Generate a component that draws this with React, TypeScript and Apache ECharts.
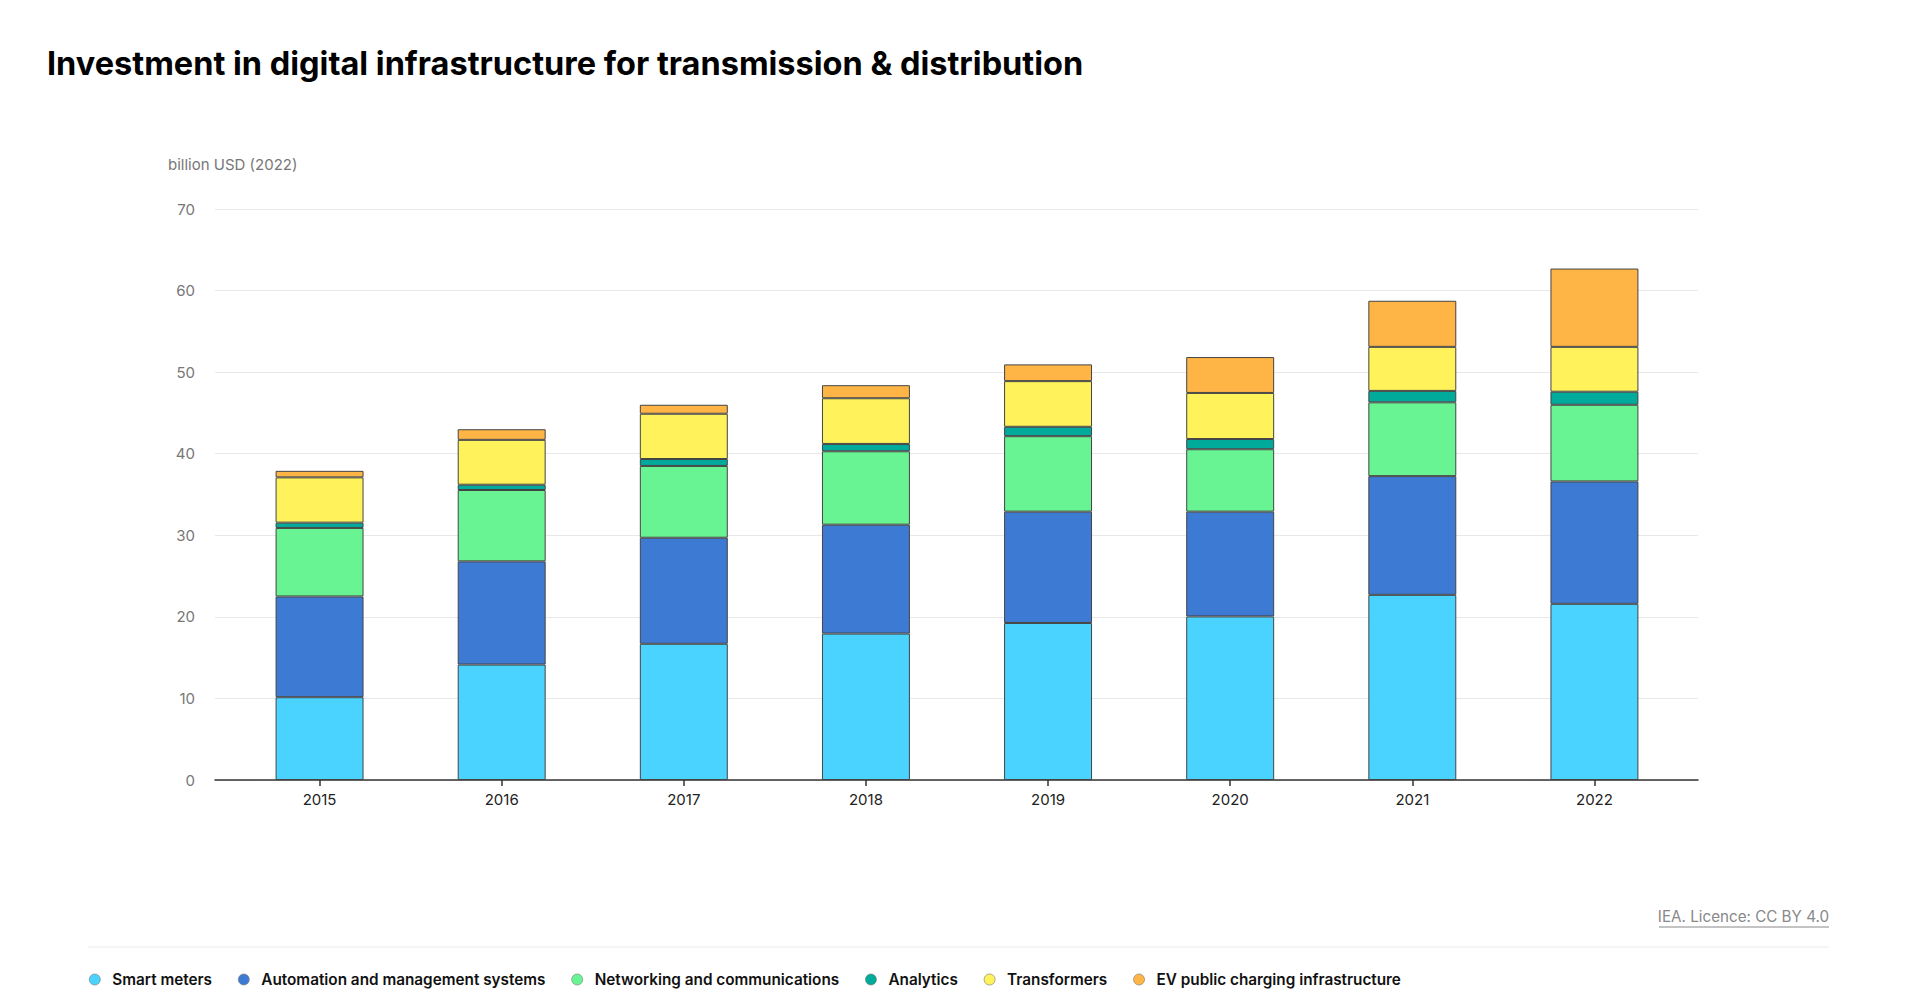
import React, { useEffect, useRef } from "react";
import * as echarts from "echarts";

const years = ["2015", "2016", "2017", "2018", "2019", "2020", "2021", "2022"];
const smartMeters = [10.15, 14.15, 16.7, 17.95, 19.25, 20.05, 22.7, 21.6];
const automation = [12.35, 12.65, 13.0, 13.35, 13.65, 12.85, 14.55, 15.0];
const networking = [8.4, 8.75, 8.8, 9.0, 9.25, 7.65, 9.05, 9.4];
const analytics = [0.65, 0.65, 0.85, 0.9, 1.15, 1.25, 1.4, 1.6];
const transformers = [5.55, 5.5, 5.55, 5.6, 5.6, 5.65, 5.4, 5.5];
const evCharging = [0.8, 1.3, 1.1, 1.6, 2.05, 4.4, 5.65, 9.6];
const yTicks = [0, 10, 20, 30, 40, 50, 60, 70];

const seriesDefs = [
  { name: "Smart meters", data: smartMeters, color: "#4AD3FE" },
  { name: "Automation and management systems", data: automation, color: "#3D7AD4" },
  { name: "Networking and communications", data: networking, color: "#69F493" },
  { name: "Analytics", data: analytics, color: "#00AB9C" },
  { name: "Transformers", data: transformers, color: "#FFF25A" },
  { name: "EV public charging infrastructure", data: evCharging, color: "#FFB545" },
];

const FONT = "Inter, 'Noto Sans', sans-serif";
const yMin = yTicks[0];
const yMax = yTicks[yTicks.length - 1];
const yStep = yTicks[1] - yTicks[0];

export default function App() {
  const ref = useRef<HTMLDivElement>(null);
  useEffect(() => {
    if (!ref.current) return;
    const chart = echarts.init(ref.current, undefined, { renderer: "svg" });
    chart.setOption({
      animation: false,
      backgroundColor: "#ffffff",
      textStyle: { fontFamily: FONT },
      title: {
        text: "Investment in digital infrastructure for transmission & distribution",
        left: 42,
        top: 42,
        textStyle: { fontFamily: FONT, fontSize: 32.5, fontWeight: 700, color: "#000" },
      },
      grid: [
        { left: 215, right: 222, top: 209, bottom: 227 },
        { left: 228.5, right: 234.5, top: 209, bottom: 227 },
      ],
      legend: {
        bottom: 15,
        left: 84,
        icon: "circle",
        itemWidth: 11,
        itemHeight: 11,
        itemGap: 26,
        textStyle: { fontFamily: FONT, fontSize: 15.3, fontWeight: 600, color: "#111", padding: [0, 0, 0, 7] },
        data: seriesDefs.map((s) => ({
          name: s.name,
          itemStyle: { color: s.color, borderColor: "#777", borderWidth: 0.6 },
        })),
      },
      xAxis: [
        {
          type: "category",
          gridIndex: 0,
          data: years,
          axisLine: { lineStyle: { color: "#333", width: 1.5 } },
          axisTick: { show: false },
          axisLabel: { show: false },
        },
        {
          type: "category",
          gridIndex: 1,
          data: years,
          axisLine: { show: false },
          axisTick: { show: true, alignWithLabel: true, length: 6, lineStyle: { color: "#333", width: 1.5 } },
          axisLabel: { color: "#222", fontSize: 15, margin: 12, fontFamily: FONT },
        },
      ],
      yAxis: [
        {
          type: "value",
          gridIndex: 0,
          min: yMin,
          max: yMax,
          interval: yStep,
          name: "billion USD (2022)",
          nameLocation: "end",
          nameGap: 37,
          nameTextStyle: { color: "#777", fontSize: 15, align: "left", padding: [0, 0, 0, -47], fontFamily: FONT },
          axisLine: { show: false },
          axisTick: { show: false },
          axisLabel: { color: "#777", fontSize: 15, margin: 20, fontFamily: FONT },
          splitLine: { lineStyle: { color: "#e8e8e8", width: 1 } },
        },
        {
          type: "value",
          gridIndex: 1,
          min: yMin,
          max: yMax,
          interval: yStep,
          axisLine: { show: false },
          axisTick: { show: false },
          axisLabel: { show: false },
          splitLine: { show: false },
        },
      ],
      series: seriesDefs.map((s) => ({
        name: s.name,
        type: "bar",
        stack: "total",
        xAxisIndex: 1,
        yAxisIndex: 1,
        barWidth: "48.3%",
        data: s.data,
        itemStyle: { color: s.color, borderColor: "#444", borderWidth: 1 },
      })),
      graphic: [
        {
          type: "text",
          right: 91,
          top: 909,
          style: {
            text: "IEA. Licence: CC BY 4.0",
            fill: "#888",
            fontSize: 15.2,
            fontFamily: FONT,
          },
        },
        {
          type: "line",
          shape: { x1: 1659, y1: 927, x2: 1829, y2: 927 },
          style: { stroke: "#888", lineWidth: 1 },
        },
        {
          type: "line",
          shape: { x1: 88, y1: 947, x2: 1829, y2: 947 },
          style: { stroke: "#ebebeb", lineWidth: 1 },
        },
      ],
    });
    return () => chart.dispose();
  }, []);
  return (
    <div
      ref={ref}
      style={{ position: "fixed", left: 0, top: 0, width: 1920, height: 1007 }}
    />
  );
}
